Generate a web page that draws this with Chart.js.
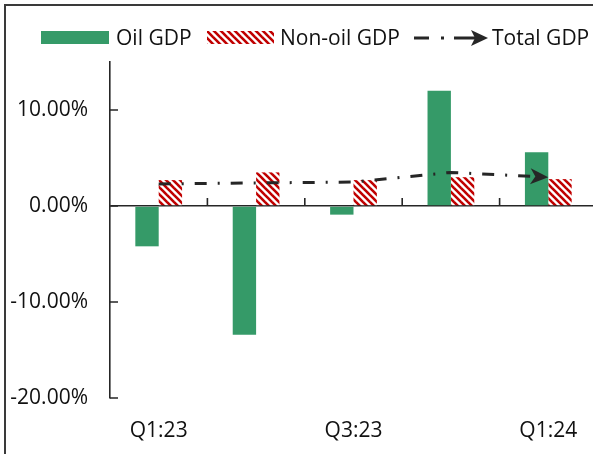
<!DOCTYPE html>
<html>
<head>
<meta charset="utf-8">
<script src="https://cdn.jsdelivr.net/npm/chart.js@4.4.1/dist/chart.umd.min.js"></script>
<style>
    html, body {
        margin: 0;
        padding: 0;
        width: 593px;
        height: 454px;
        overflow: hidden;
        background: #fff;
        font-family: 'Open Sans', sans-serif;
    }
    #frame {
        position: absolute;
        left: 4px;
        top: 4px;
        width: 640px;
        height: 500px;
        border: 2px solid #3a3a3a;
        box-sizing: border-box;
    }
    #gdpChart {
        position: absolute;
        left: 0;
        top: 0;
    }
    .legend-item {
        position: absolute;
        top: 24px;
        height: 27px;
        line-height: 27px;
        font-size: 21px;
        color: #111;
        white-space: nowrap;
    }
    .legend-swatch {
        position: absolute;
        top: 31px;
    }
</style>
</head>
<body>
<div id="frame"></div>
<canvas id="gdpChart" width="620" height="454"></canvas>

<canvas class="legend-swatch" id="oilSwatch" width="68" height="13" style="left:41px"></canvas>
<div class="legend-item" style="left:116px">Oil GDP</div>
<canvas class="legend-swatch" id="nonOilSwatch" width="67" height="13" style="left:207px"></canvas>
<div class="legend-item" style="left:280px">Non-oil GDP</div>
<svg style="position:absolute;left:410px;top:28px" width="80" height="20">
    <line x1="4" y1="10" x2="68" y2="10" stroke="#262626" stroke-width="3" stroke-dasharray="15 12 3 10 14 0"></line>
    <polygon points="61,2 78,10 61,18 65,10" fill="#262626"></polygon>
</svg>
<div class="legend-item" style="left:492px">Total GDP</div>

<script>
'use strict';

// данные по кварталам, % г/г
const quarters = ['Q1:23', 'Q2:23', 'Q3:23', 'Q4:23', 'Q1:24'];
const oilGdp = [-4.2, -13.4, -0.9, 12.0, 5.6];
const nonOilGdp = [2.7, 3.5, 2.7, 3.0, 2.8];
const totalGdp = [2.3, 2.4, 2.5, 3.5, 3.0];
const yTickValues = [-20, -10, 0, 10];

const GREEN = '#359a68';
const RED = '#c00000';
const INK = '#262626';

// штриховка для ненефтяного ВВП
function makeHatch(ctx) {
    const tile = document.createElement('canvas');
    tile.width = 7;
    tile.height = 7;
    const t = tile.getContext('2d');
    t.fillStyle = '#fff';
    t.fillRect(0, 0, 7, 7);
    t.strokeStyle = RED;
    t.lineWidth = 2.6;
    for (let k = -2; k <= 2; k++) {
        t.beginPath();
        t.moveTo(-1, k * 7 - 1);
        t.lineTo(8, k * 7 + 8);
        t.stroke();
    }
    return ctx.createPattern(tile, 'repeat');
}

const chartCtx = document.getElementById('gdpChart').getContext('2d');
const hatch = makeHatch(chartCtx);

// легенда
const oilSw = document.getElementById('oilSwatch').getContext('2d');
oilSw.fillStyle = GREEN;
oilSw.fillRect(0, 0, 68, 13);
const nonOilSw = document.getElementById('nonOilSwatch').getContext('2d');
nonOilSw.fillStyle = makeHatch(nonOilSw);
nonOilSw.fillRect(0, 0, 67, 13);

// засечки внутрь области графика и стрелка на конце линии
const axisMarks = {
    id: 'axisMarks',
    afterDatasetsDraw(chart) {
        const ctx = chart.ctx;
        const x = chart.scales.x;
        const y = chart.scales.y;
        const left = chart.chartArea.left;
        const zero = y.getPixelForValue(0);
        ctx.save();
        ctx.strokeStyle = INK;
        ctx.lineWidth = 1.6;
        ctx.beginPath();
        yTickValues.forEach(v => {
            const py = y.getPixelForValue(v);
            ctx.moveTo(left, py);
            ctx.lineTo(left + 8, py);
        });
        for (let i = 0; i < quarters.length - 1; i++) {
            const px = (x.getPixelForValue(i) + x.getPixelForValue(i + 1)) / 2;
            ctx.moveTo(px, zero);
            ctx.lineTo(px, zero - 8);
        }
        ctx.stroke();

        const pts = chart.getDatasetMeta(2).data;
        const end = pts[pts.length - 1];
        const prev = pts[pts.length - 2];
        const angle = Math.atan2(end.y - prev.y, end.x - prev.x);
        ctx.translate(end.x, end.y);
        ctx.rotate(angle);
        ctx.fillStyle = INK;
        ctx.beginPath();
        ctx.moveTo(0, 0);
        ctx.lineTo(-18, -8);
        ctx.lineTo(-13, 0);
        ctx.lineTo(-18, 8);
        ctx.closePath();
        ctx.fill();
        ctx.restore();
    }
};

const gdpChart = new Chart(chartCtx, {
    data: {
        labels: quarters,
        datasets: [{
            type: 'bar',
            label: 'Oil GDP',
            data: oilGdp,
            backgroundColor: GREEN,
            categoryPercentage: 0.48,
            barPercentage: 1,
            order: 1
        }, {
            type: 'bar',
            label: 'Non-oil GDP',
            data: nonOilGdp,
            backgroundColor: hatch,
            categoryPercentage: 0.48,
            barPercentage: 1,
            order: 2
        }, {
            type: 'line',
            label: 'Total GDP',
            data: totalGdp,
            borderColor: INK,
            borderWidth: 3,
            borderDash: [12, 11, 2, 11],
            pointRadius: 0,
            tension: 0,
            fill: false,
            order: 0
        }]
    },
    options: {
        responsive: false,
        animation: false,
        devicePixelRatio: 1,
        layout: {
            padding: { left: 0, top: 62, right: 23, bottom: 0 }
        },
        plugins: {
            legend: { display: false },
            tooltip: { enabled: false }
        },
        scales: {
            x: {
                grid: { display: false },
                border: { display: false },
                ticks: {
                    autoSkip: false,
                    maxRotation: 0,
                    padding: 12,
                    color: '#111',
                    font: { family: 'Open Sans', size: 21 },
                    callback: (v, i) => i % 2 === 0 ? quarters[i] : ''
                },
                afterFit: s => { s.height = 56; }
            },
            y: {
                min: -20,
                max: 15,
                ticks: {
                    stepSize: 10,
                    padding: 22,
                    color: '#111',
                    font: { family: 'Open Sans', size: 21 },
                    callback: v => yTickValues.includes(v) ? v.toFixed(2) + '%' : ''
                },
                grid: {
                    drawTicks: false,
                    lineWidth: 1.6,
                    color: c => c.tick && c.tick.value === 0 ? INK : 'rgba(0,0,0,0)'
                },
                border: { color: INK, width: 1.6 },
                afterFit: s => { s.width = 110; }
            }
        }
    },
    plugins: [axisMarks]
});
</script>
</body>
</html>
